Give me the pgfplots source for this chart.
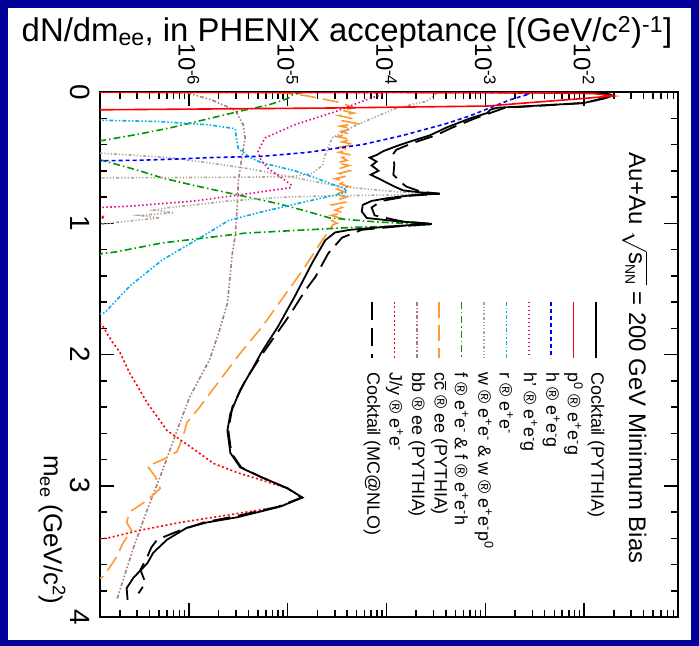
\documentclass[border=0pt]{standalone}
\usepackage{fontspec}
\setmainfont{Liberation Sans}
\usepackage{pgfplots}
\usepackage{pgfplotstable}
\pgfplotsset{compat=1.18}

\definecolor{bgblue}{RGB}{0,0,153}
\definecolor{omegagray}{RGB}{178,164,150}
\definecolor{bbbrown}{RGB}{165,125,125}
\definecolor{phigreen}{RGB}{0,150,0}
\definecolor{ccorange}{RGB}{255,153,51}

% m_ee [GeV/c^2] and lg = log10(dN/dm_ee)
\pgfplotstableread{
m lg
0.0012 -3.5
0.003 -2.3
0.006 -1.95
0.012 -1.8
0.02 -1.73
0.03 -1.71
0.05 -1.82
0.084 -2.0
0.107 -2.55
0.12 -2.88
0.135 -2.95
0.16 -2.98
0.2 -3.15
0.27 -3.39
0.33 -3.56
0.37 -3.73
0.41 -3.89
0.45 -4.03
0.48 -4.1
0.5 -4.17
0.53 -4.1
0.56 -4.15
0.6 -4.08
0.63 -4.16
0.67 -4.05
0.69 -4.0
0.72 -3.92
0.75 -3.83
0.765 -3.65
0.775 -3.46
0.785 -3.73
0.81 -4.0
0.83 -4.15
0.86 -4.24
0.91 -4.25
0.96 -4.2
0.985 -3.89
1.005 -3.54
1.02 -3.89
1.05 -4.37
1.07 -4.52
1.1 -4.57
1.13 -4.62
1.3 -4.75
1.56 -4.93
1.79 -5.1
1.99 -5.27
2.1 -5.35
2.27 -5.48
2.45 -5.58
2.58 -5.61
2.75 -5.58
2.86 -5.48
2.93 -5.28
3.02 -5.0
3.09 -4.85
3.16 -5.08
3.24 -5.51
3.28 -5.82
3.32 -6.02
3.41 -6.22
3.51 -6.36
3.59 -6.42
3.7 -6.56
3.78 -6.63
3.87 -6.62
}\tblCockPy

\pgfplotstableread{
m lg
0.0012 -3.5
0.003 -2.3
0.006 -1.95
0.012 -1.8
0.02 -1.73
0.03 -1.71
0.05 -1.8
0.084 -2.0
0.107 -2.5
0.12 -2.8
0.16 -2.95
0.2 -3.1
0.27 -3.33
0.33 -3.5
0.39 -3.74
0.44 -3.9
0.48 -3.94
0.55 -3.92
0.63 -3.93
0.69 -3.85
0.72 -3.8
0.76 -3.65
0.775 -3.46
0.79 -3.75
0.83 -4.05
0.88 -4.15
0.94 -4.12
0.985 -3.85
1.005 -3.54
1.025 -3.9
1.05 -4.25
1.11 -4.45
1.23 -4.59
1.41 -4.72
1.51 -4.82
1.7 -4.98
1.85 -5.12
2.0 -5.26
2.2 -5.43
2.4 -5.56
2.58 -5.6
2.75 -5.57
2.86 -5.47
2.93 -5.28
3.02 -5.0
3.09 -4.86
3.16 -5.1
3.22 -5.45
3.28 -5.85
3.34 -6.09
3.41 -6.32
3.47 -6.38
3.54 -6.42
3.64 -6.49
3.74 -6.44
3.82 -6.51
}\tblCockMC

\pgfplotstableread{
m lg
0.001 -7.2
0.003 -4.0
0.006 -2.5
0.012 -1.9
0.03 -1.71
0.049 -2.0
0.078 -2.5
0.107 -2.98
0.122 -4.57
0.134 -6.6
0.137 -7.2
}\tblPiZero

\pgfplotstableread{
m lg
0.0008 -7.2
0.002 -3.5
0.005 -2.7
0.015 -2.55
0.03 -2.62
0.06 -2.75
0.12 -2.95
0.18 -3.15
0.24 -3.39
0.33 -3.83
0.40 -4.24
0.43 -4.52
0.46 -4.8
0.49 -5.26
0.50 -5.8
0.51 -6.1
0.52 -6.5
0.527 -7.2
}\tblEta

\pgfplotstableread{
m lg
0.0008 -7.2
0.002 -4.5
0.006 -4.05
0.02 -4.05
0.05 -4.17
0.15 -4.52
0.25 -4.93
0.35 -5.23
0.45 -5.3
0.52 -5.27
0.58 -5.2
0.66 -5.05
0.71 -4.96
0.73 -4.98
0.78 -5.45
0.83 -5.94
0.87 -6.6
0.89 -7.2
}\tblEtaP

\pgfplotstableread{
m lg
0.21 -7.2
0.215 -6.9
0.225 -6.3
0.25 -5.8
0.28 -5.53
0.35 -5.52
0.43 -5.5
0.50 -5.38
0.54 -5.26
0.6 -4.93
0.66 -4.7
0.71 -4.52
0.74 -4.42
0.765 -4.4
0.785 -4.52
0.86 -4.96
0.92 -5.3
0.98 -5.6
1.09 -5.84
1.28 -6.27
1.48 -6.6
1.68 -6.85
1.75 -7.2
}\tblRho

\pgfplotstableread{
m lg
0.0008 -7.2
0.002 -3.8
0.008 -3.5
0.03 -3.52
0.07 -3.59
0.12 -3.89
0.25 -4.3
0.35 -4.55
0.48 -4.62
0.56 -4.65
0.62 -4.75
0.645 -4.95
0.65 -5.6
0.655 -7.2
}\tblOmegaD

\pgfplotstableread{
m lg
0.45 -7.2
0.50 -6.2
0.55 -5.7
0.59 -5.35
0.65 -4.95
0.72 -4.47
0.76 -3.9
0.775 -3.46
0.785 -3.9
0.79 -4.5
0.80 -5.0
0.83 -5.6
0.86 -5.94
0.88 -6.2
0.90 -6.35
0.92 -6.15
0.94 -6.5
0.96 -6.3
0.99 -6.7
1.01 -6.9
1.03 -7.2
}\tblOmegaE

\pgfplotstableread{
m lg
0.0008 -7.2
0.003 -4.85
0.02 -4.95
0.05 -5.0
0.1 -5.2
0.14 -5.45
0.2 -5.78
0.27 -6.17
0.32 -6.5
0.37 -6.88
0.39 -7.2
}\tblPhiD

\pgfplotstableread{
m lg
0.50 -7.2
0.52 -6.88
0.6 -6.5
0.655 -6.27
0.72 -5.9
0.785 -5.5
0.85 -5.1
0.9 -4.85
0.96 -4.57
0.99 -4.1
1.005 -3.7
1.012 -3.56
1.02 -3.8
1.03 -4.3
1.04 -4.55
1.075 -5.43
1.15 -6.27
1.22 -6.75
1.23 -6.88
1.3 -7.0
1.36 -7.2
}\tblPhiE

\pgfplotstableread{
m lg
0.001 -7.2
0.003 -5.3
0.01 -5.0
0.03 -4.8
0.06 -4.6
0.08 -4.47
0.1 -4.4
0.12 -4.33
0.14 -4.45
0.16 -4.33
0.18 -4.48
0.20 -4.36
0.22 -4.44
0.24 -4.30
0.26 -4.47
0.28 -4.35
0.30 -4.46
0.32 -4.38
0.34 -4.50
0.36 -4.36
0.38 -4.45
0.40 -4.33
0.42 -4.47
0.44 -4.39
0.46 -4.48
0.48 -4.36
0.50 -4.45
0.52 -4.40
0.54 -4.50
0.56 -4.38
0.58 -4.46
0.60 -4.37
0.62 -4.48
0.64 -4.40
0.66 -4.52
0.68 -4.42
0.70 -4.47
0.72 -4.38
0.74 -4.50
0.76 -4.43
0.78 -4.52
0.80 -4.40
0.82 -4.49
0.84 -4.42
0.86 -4.55
0.88 -4.45
0.90 -4.52
0.92 -4.44
0.94 -4.56
0.96 -4.47
0.98 -4.55
1.00 -4.50
1.01 -4.54
1.13 -4.65
1.36 -4.85
1.58 -5.06
1.79 -5.26
1.99 -5.48
2.19 -5.68
2.4 -5.89
2.52 -6.02
2.63 -6.06
2.74 -6.12
2.8 -6.26
2.85 -6.42
2.93 -6.34
3.02 -6.29
3.11 -6.42
3.2 -6.6
3.28 -6.63
3.34 -6.58
3.44 -6.67
3.54 -6.73
3.62 -6.8
3.7 -6.88
3.75 -7.2
}\tblCC

\pgfplotstableread{
m lg
0.001 -7.2
0.003 -6.2
0.01 -6.0
0.06 -5.77
0.14 -5.53
0.25 -5.45
0.35 -5.43
0.48 -5.46
0.68 -5.5
0.86 -5.51
1.09 -5.53
1.23 -5.56
1.61 -5.61
1.84 -5.7
2.04 -5.79
2.32 -5.99
2.58 -6.12
2.93 -6.29
3.18 -6.42
3.47 -6.56
3.87 -6.73
}\tblBB

\pgfplotstableread{
m lg
0.93 -7.2
0.95 -6.85
0.97 -6.9
0.99 -7.2
1.7 -7.2
1.77 -6.88
1.85 -6.82
1.91 -6.77
1.98 -6.7
2.14 -6.6
2.37 -6.42
2.58 -6.22
2.7 -5.99
2.83 -5.75
2.9 -5.51
2.96 -5.25
3.02 -5.0
3.09 -4.85
3.16 -5.08
3.22 -5.58
3.28 -6.09
3.34 -6.5
3.4 -6.83
3.42 -7.2
}\tblJpsi

\tikzset{
  sBlue/.style={blue, line width=1.6bp, dash pattern=on 4bp off 3bp},
  sMag/.style={magenta, line width=1.6bp, dash pattern=on 1.5bp off 2.5bp},
  sCyan/.style={cyan, line width=1.6bp, dash pattern=on 4bp off 2bp on 1.5bp off 2bp on 1.5bp off 2bp},
  sOmega/.style={omegagray, line width=1.6bp, dash pattern=on 3bp off 2bp on 1.2bp off 2bp on 1.2bp off 2bp on 1.2bp off 2bp},
  sPhi/.style={phigreen, line width=1.6bp, dash pattern=on 7bp off 3bp on 1.5bp off 3bp},
  sCC/.style={ccorange, line width=1.6bp, dash pattern=on 16bp off 7bp},
  sBB/.style={bbbrown, line width=1.6bp, dash pattern=on 4bp off 2bp on 1.5bp off 2bp on 1.5bp off 2bp},
  sJpsi/.style={red, line width=1.6bp, dash pattern=on 2bp off 2.5bp},
  sPi/.style={red, line width=1.6bp},
  sCock/.style={black, line width=1.8bp},
  sMC/.style={black, line width=1.8bp, dash pattern=on 18bp off 8bp},
  xlab/.style={rotate=-90, anchor=east, inner sep=0pt, font=\fontsize{24}{24}\selectfont},
  ylab/.style={rotate=-90, anchor=north, inner sep=0pt, font=\fontsize{28}{28}\selectfont},
}

\newcommand{\ra}{ ® }
\newcommand{\ep}{e\textsuperscript{+}e\textsuperscript{-}}

\begin{document}
\begin{tikzpicture}
\fill[bgblue] (0,0) rectangle (699bp,646bp);
\fill[white] (8bp,6bp) rectangle (691bp,638bp);
\begin{axis}[
  at={(100bp,29bp)}, anchor=south west,
  scale only axis, width=578bp, height=525bp,
  xmode=log, xmin=1.26e-7, xmax=0.0893,
  ymin=0, ymax=4, y dir=reverse,
  xtick={1e-6,1e-5,1e-4,1e-3,1e-2},
  xticklabels={},
  minor xtick={2e-7,3e-7,4e-7,5e-7,6e-7,7e-7,8e-7,9e-7,
               2e-6,3e-6,4e-6,5e-6,6e-6,7e-6,8e-6,9e-6,
               2e-5,3e-5,4e-5,5e-5,6e-5,7e-5,8e-5,9e-5,
               2e-4,3e-4,4e-4,5e-4,6e-4,7e-4,8e-4,9e-4,
               2e-3,3e-3,4e-3,5e-3,6e-3,7e-3,8e-3,9e-3,
               2e-2,3e-2,4e-2,5e-2,6e-2,7e-2,8e-2},
  ytick={0,1,2,3,4},
  yticklabels={},
  minor ytick={0.2,0.4,0.6,0.8,1.2,1.4,1.6,1.8,2.2,2.4,2.6,2.8,3.2,3.4,3.6,3.8},
  axis line style={line width=2.5bp},
  every tick/.style={black, line width=1.5bp},
  major tick length=14bp, minor tick length=7bp,
]
% single contributions
\addplot[sBB] table[x expr={10^(\thisrow{lg})}, y=m] {\tblBB};
\addplot[sCC] table[x expr={10^(\thisrow{lg})}, y=m] {\tblCC};
\addplot[sPhi] table[x expr={10^(\thisrow{lg})}, y=m] {\tblPhiD};
\addplot[sPhi] table[x expr={10^(\thisrow{lg})}, y=m] {\tblPhiE};
\addplot[sOmega] table[x expr={10^(\thisrow{lg})}, y=m] {\tblOmegaD};
\addplot[sOmega] table[x expr={10^(\thisrow{lg})}, y=m] {\tblOmegaE};
\addplot[sCyan] table[x expr={10^(\thisrow{lg})}, y=m] {\tblRho};
\addplot[sMag] table[x expr={10^(\thisrow{lg})}, y=m] {\tblEtaP};
\addplot[sBlue] table[x expr={10^(\thisrow{lg})}, y=m] {\tblEta};
\addplot[sJpsi] table[x expr={10^(\thisrow{lg})}, y=m] {\tblJpsi};
% summed cocktails
\addplot[sMC] table[x expr={10^(\thisrow{lg})}, y=m] {\tblCockMC};
\addplot[sCock] table[x expr={10^(\thisrow{lg})}, y=m] {\tblCockPy};
\addplot[sPi] table[x expr={10^(\thisrow{lg})}, y=m] {\tblPiZero};
% anchor points for the tick labels
\coordinate (x6) at (axis cs:1e-6,0);
\coordinate (x5) at (axis cs:1e-5,0);
\coordinate (x4) at (axis cs:1e-4,0);
\coordinate (x3) at (axis cs:1e-3,0);
\coordinate (x2) at (axis cs:1e-2,0);
\coordinate (y0) at (axis cs:1.26e-7,0);
\coordinate (y1) at (axis cs:1.26e-7,1);
\coordinate (y2) at (axis cs:1.26e-7,2);
\coordinate (y3) at (axis cs:1.26e-7,3);
\coordinate (y4) at (axis cs:1.26e-7,4);
\end{axis}
% tick labels, turned like the rest of the figure
\node[xlab] at ([yshift=6bp]x6) {10\textsuperscript{-6}};
\node[xlab] at ([yshift=6bp]x5) {10\textsuperscript{-5}};
\node[xlab] at ([yshift=6bp]x4) {10\textsuperscript{-4}};
\node[xlab] at ([yshift=6bp]x3) {10\textsuperscript{-3}};
\node[xlab] at ([yshift=6bp]x2) {10\textsuperscript{-2}};
\node[ylab] at ([xshift=-10bp]y0) {0};
\node[ylab] at ([xshift=-10bp]y1) {1};
\node[ylab] at ([xshift=-10bp]y2) {2};
\node[ylab] at ([xshift=-10bp]y3) {3};
\node[ylab] at ([xshift=-10bp]y4) {4};
% axis titles
\node[anchor=base, font=\fontsize{33}{33}\selectfont] at (347bp,604bp)
  {dN/dm\textsubscript{ee}, in PHENIX acceptance [(GeV/c\textsuperscript{2})\textsuperscript{-1}]};
\node[rotate=-90, font=\fontsize{26}{26}\selectfont] at (52bp,116bp)
  {m\textsubscript{ee} (GeV/c\textsuperscript{2})};
\node[rotate=-90, font=\fontsize{24}{24}\selectfont] at (635bp,288bp)
  {Au+Au $\sqrt{\mbox{s}_{\mbox{\fontsize{14}{14}\selectfont NN}}}$ = 200 GeV Minimum Bias};
% legend, written along the mass axis
\begin{scope}[shift={(596bp,344bp)}, rotate=-90,
    every node/.style={transform shape, anchor=west, inner sep=0pt,
      font=\fontsize{18}{18}\selectfont}]
  \draw[sCock]  (0bp,0bp)      -- (56bp,0bp);      \node at (70bp,0bp)      {Cocktail (PYTHIA)};
  \draw[sPi]    (0bp,-22.4bp)  -- (56bp,-22.4bp);  \node at (70bp,-22.4bp)  {p\textsuperscript{0}\ra\ep g};
  \draw[sBlue]  (0bp,-44.8bp)  -- (56bp,-44.8bp);  \node at (70bp,-44.8bp)  {h\ra\ep g};
  \draw[sMag]   (0bp,-67.2bp)  -- (56bp,-67.2bp);  \node at (70bp,-67.2bp)  {h'\ra\ep g};
  \draw[sCyan]  (0bp,-89.6bp)  -- (56bp,-89.6bp);  \node at (70bp,-89.6bp)  {r\ra\ep};
  \draw[sOmega] (0bp,-112bp)   -- (56bp,-112bp);   \node at (70bp,-112bp)   {w\ra\ep{} \& w\ra\ep p\textsuperscript{0}};
  \draw[sPhi]   (0bp,-134.4bp) -- (56bp,-134.4bp); \node at (70bp,-134.4bp) {f\ra\ep{} \& f\ra\ep h};
  \draw[sCC]    (0bp,-156.8bp) -- (56bp,-156.8bp); \node at (70bp,-156.8bp) {c$\overline{\mbox{c}}$\ra ee (PYTHIA)};
  \draw[sBB]    (0bp,-179.2bp) -- (56bp,-179.2bp); \node at (70bp,-179.2bp) {bb\ra ee (PYTHIA)};
  \draw[sJpsi]  (0bp,-201.6bp) -- (56bp,-201.6bp); \node at (70bp,-201.6bp) {J/y\ra\ep};
  \draw[sMC]    (0bp,-224bp)   -- (56bp,-224bp);   \node at (70bp,-224bp)   {Cocktail (MC@NLO)};
\end{scope}
\end{tikzpicture}
\end{document}
